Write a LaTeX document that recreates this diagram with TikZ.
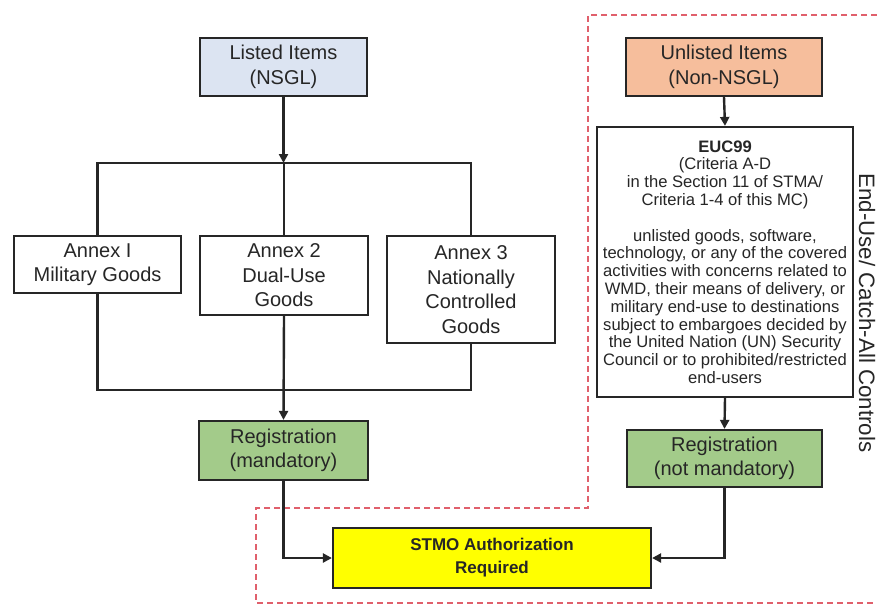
\documentclass[tikz,border=0pt]{standalone}
\usepackage{fontspec}
\setmainfont{Liberation Sans}
\usetikzlibrary{arrows.meta}
\definecolor{linec}{HTML}{262626}
\definecolor{bluefill}{HTML}{DCE4F2}
\definecolor{orangefill}{HTML}{F6BE9C}
\definecolor{greenfill}{HTML}{A3CB8A}
\definecolor{yellowfill}{HTML}{FFFF00}
\definecolor{redline}{HTML}{E0606C}
\begin{document}
\begin{tikzpicture}[x=1pt,y=-1pt,
  box/.style={draw=linec, line width=2.2pt, inner sep=0pt, align=center,
    font=\fontsize{20}{24.5}\selectfont, text=black!85},
  conn/.style={draw=linec, line width=2.4pt},
  arr/.style={conn, -{Triangle[length=9pt,width=9pt]}},
  zone/.style={draw=redline, line width=1.3pt, dash pattern=on 6pt off 4pt}
]
\useasboundingbox[fill=white] (0,0) rectangle (877,608);

% dashed zone
\draw[zone] (877,15) -- (588,15) -- (588,508) -- (256,508) -- (256,603) -- (877,603);

% left branch
\node[box, fill=bluefill, minimum width=167pt, minimum height=58pt] (listed) at (283.5,67) {Listed Items\\(NSGL)};
\node[box, fill=white, minimum width=167pt, minimum height=57pt] (a1) at (97.5,264.5) {Annex I\\Military Goods};
\node[box, fill=white, minimum width=168pt, minimum height=79pt] (a2) at (284,275.5) {Annex 2\\Dual-Use\\Goods};
\node[box, fill=white, minimum width=168pt, minimum height=107pt] (a3) at (471,289.5) {Annex 3\\Nationally\\Controlled\\Goods};
\node[box, fill=greenfill, minimum width=169pt, minimum height=59pt] (reg1) at (283.5,450.5) {Registration\\(mandatory)};

% right branch
\node[box, fill=orangefill, minimum width=196pt, minimum height=58pt] (un) at (724,67) {Unlisted Items\\(Non-NSGL)};
\node[box, fill=white, minimum width=256pt, minimum height=270pt,
  font=\fontsize{16.6}{17.8}\selectfont] (euc) at (725,262)
  {\textbf{EUC99}\\(Criteria A-D\\in the Section 11 of STMA/\\Criteria 1-4 of this MC)\\[17.8pt]
   unlisted goods, software,\\technology, or any of the covered\\activities with concerns related to\\WMD, their means of delivery, or\\military end-use to destinations\\subject to embargoes decided by\\the United Nation (UN) Security\\Council or to prohibited/restricted\\end-users};
\node[box, fill=greenfill, minimum width=195pt, minimum height=57pt] (reg2) at (724.5,458.5) {Registration\\(not mandatory)};

% result
\node[box, fill=yellowfill, minimum width=318pt, minimum height=60pt,
  font=\fontsize{17}{23}\selectfont\bfseries] (stmo) at (492,558) {STMO Authorization\\Required};

% side label
\node[rotate=-90, inner sep=0pt, font=\fontsize{22.3}{24}\selectfont, text=black!85] (side) at (867,313) {End-Use/ Catch-All Controls};

% junction coordinates
\coordinate (top) at (283.5,163);
\coordinate (bot) at (283.5,390);

% connectors
\draw[arr] (listed.south) -- (top);
\draw[conn] (a1.north) -- (a1.north |- top) -- (a3.north |- top) -- (a3.north);
\draw[conn] (a2.north) -- (a2.north |- top);
\draw[conn] (a1.south) -- (a1.south |- bot) -- (a3.south |- bot) -- (a3.south);
\draw[arr] (a2.south) -- (reg1.north);
\draw[arr] (reg1.south) |- (stmo.west);
\draw[arr] (un.south) -- (euc.north);
\draw[arr] (euc.south) -- (reg2.north);
\draw[arr] (reg2.south) |- (stmo.east);
\end{tikzpicture}
\end{document}
